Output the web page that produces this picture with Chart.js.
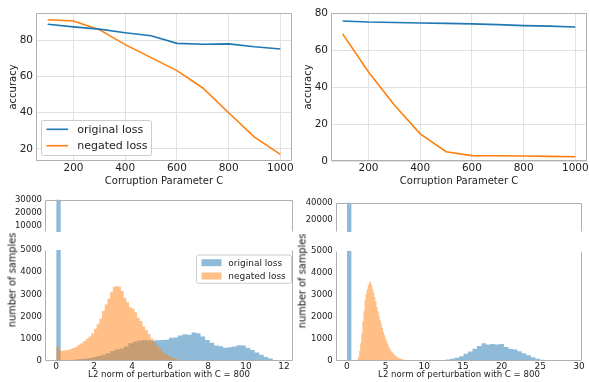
<!DOCTYPE html>
<html>
<head>
<meta charset="utf-8">
<script src="https://cdn.jsdelivr.net/npm/chart.js@4.4.0/dist/chart.umd.min.js"></script>
<style>
  body { margin: 0; background: #fff; width: 590px; height: 382px; position: relative; overflow: hidden; font-family: "DejaVu Sans", sans-serif; }
  canvas { position: absolute; }
  .ylab { position: absolute; white-space: nowrap; font-size: 9.8px; color: #111; transform: translate(-50%, -50%) rotate(-90deg); }
</style>
</head>
<body>
<canvas id="accLeft" width="300" height="192" style="left:0;top:0"></canvas>
<canvas id="accRight" width="295" height="192" style="left:295px;top:0"></canvas>
<canvas id="histLeftTop" width="300" height="50" style="left:0;top:190px"></canvas>
<canvas id="histLeft" width="300" height="142" style="left:0;top:240px"></canvas>
<canvas id="histRightTop" width="295" height="50" style="left:295px;top:190px"></canvas>
<canvas id="histRight" width="295" height="142" style="left:295px;top:240px"></canvas>
<div class="ylab" style="left:12px;top:280px">number of samples</div>
<div class="ylab" style="left:302px;top:281px">number of samples</div>
<script>
// accuracy vs corruption parameter
const corruptionC = [100, 200, 300, 400, 500, 600, 700, 800, 900, 1000];
const accLeftOriginal = [89, 87.5, 86.3, 84.3, 82.6, 78.4, 77.9, 78.1, 76.5, 75.3];
const accLeftNegated = [91.5, 90.8, 86, 77.7, 70.5, 63.3, 53.7, 40, 26.5, 17];
const accRightOriginal = [75.7, 75.1, 74.9, 74.6, 74.4, 74.1, 73.7, 73.2, 72.9, 72.4];
const accRightNegated = [68.7, 48.1, 30.3, 14.7, 5, 2.9, 2.8, 2.7, 2.5, 2.3];
const cTicks = [200, 400, 600, 800, 1000];
const accLeftTicks = [20, 40, 60, 80];
const accRightTicks = [0, 20, 40, 60, 80];

// histograms of L2 norm (counts per bin)
const leftOrigStart = 0, leftOrigBin = 0.2376;
const leftOrigCounts = [38000, 30, 40, 50, 70, 90, 110, 140, 180, 220,
  280, 350, 450, 520, 560, 650, 800, 880, 920, 950,
  940, 920, 930, 950, 960, 1050, 1060, 1150, 1200, 1180,
  1280, 1250, 1100, 950, 820, 700, 660, 600, 620, 650,
  710, 700, 600, 500, 380, 280, 180, 110, 50, 15];
const leftNegStart = 0, leftNegBin = 0.142;
const leftNegCounts = [650, 450, 460, 480, 500, 540, 580, 640, 730, 800,
  900, 1000, 1100, 1250, 1450, 1650, 1900, 2250, 2550, 2800,
  3100, 3350, 3380, 3350, 3150, 2850, 2650, 2420, 2350, 2200,
  1950, 1800, 1550, 1400, 1200, 1000, 850, 700, 560, 430,
  330, 250, 180, 130, 90, 60, 40, 25, 15, 8];
const rightOrigStart = 0, rightOrigBin = 0.58;
const rightOrigCounts = [45000, 0, 0, 0, 0, 0, 0, 0, 0, 0,
  0, 0, 0, 0, 0, 0, 0, 10, 15, 20,
  35, 50, 70, 100, 150, 220, 330, 430, 560, 680,
  800, 750, 770, 750, 770, 640, 560, 520, 440, 350,
  260, 170, 100, 55, 30, 15, 8, 4, 2, 1];
const rightNegStart = 1.3, rightNegBin = 0.14;
const rightNegCounts = [60, 200, 450, 800, 1250, 1800, 2250, 2750, 3050, 3250,
  3450, 3550, 3620, 3450, 3250, 3100, 2900, 2700, 2450, 2250,
  2050, 1850, 1700, 1500, 1330, 1180, 1020, 900, 780, 660,
  560, 480, 400, 340, 290, 240, 200, 170, 140, 120,
  100, 85, 70, 55, 45, 35, 28, 20, 12, 6];
const histLeftTicks = [0, 2, 4, 6, 8, 10, 12];
const histRightTicks = [0, 5, 10, 15, 20, 25, 30];
const lowerTicks = [0, 1000, 2000, 3000, 4000, 5000];
const upperLeftTicks = [10000, 20000, 30000];
const upperRightTicks = [20000, 40000];

const blueLine = '#1f77b4';
const orangeLine = '#ff7f0e';
const blueFill = 'rgba(31,119,180,0.5)';
const orangeFill = 'rgba(255,127,14,0.5)';
const frameColor = '#b0b0b0';
const gridColor = '#e2e2e2';

Chart.defaults.font.family = '"DejaVu Sans", sans-serif';
Chart.defaults.color = '#222';
Chart.defaults.animation = false;

const framePlugin = {
  id: 'frame',
  afterDraw(chart, args, opts) {
    const a = chart.chartArea;
    const ctx = chart.ctx;
    const l = Math.round(a.left) + 0.5, r = Math.round(a.right) - 0.5;
    const t = Math.round(a.top) + 0.5, b = Math.round(a.bottom) - 0.5;
    const sides = opts.sides || 'tlbr';
    ctx.save();
    ctx.strokeStyle = frameColor;
    ctx.lineWidth = 1;
    ctx.beginPath();
    if (sides.includes('t')) { ctx.moveTo(l, t); ctx.lineTo(r, t); }
    if (sides.includes('b')) { ctx.moveTo(l, b); ctx.lineTo(r, b); }
    if (sides.includes('l')) { ctx.moveTo(l, t); ctx.lineTo(l, b); }
    if (sides.includes('r')) { ctx.moveTo(r, t); ctx.lineTo(r, b); }
    ctx.stroke();
    ctx.restore();
  }
};

const boxLegend = {
  id: 'boxLegend',
  afterDraw(chart, args, o) {
    if (!o.show) return;
    const ctx = chart.ctx;
    ctx.save();
    ctx.fillStyle = 'rgba(255,255,255,0.85)';
    ctx.strokeStyle = '#cccccc';
    ctx.lineWidth = 1;
    ctx.beginPath();
    ctx.roundRect(o.x, o.y, o.w, o.h, 2);
    ctx.fill();
    ctx.stroke();
    ctx.font = o.font + 'px "DejaVu Sans"';
    ctx.textBaseline = 'middle';
    chart.data.datasets.forEach((ds, i) => {
      const yy = o.y + o.rows[i];
      if (o.kind === 'line') {
        ctx.strokeStyle = ds.borderColor;
        ctx.lineWidth = 1.6;
        ctx.beginPath();
        ctx.moveTo(o.x + o.swX, yy);
        ctx.lineTo(o.x + o.swX + o.swW, yy);
        ctx.stroke();
      } else {
        ctx.fillStyle = ds.backgroundColor;
        ctx.fillRect(o.x + o.swX, yy - o.swH / 2, o.swW, o.swH);
      }
      ctx.fillStyle = '#222';
      ctx.fillText(ds.label, o.x + o.textX, yy + 0.5);
    });
    ctx.restore();
  }
};

function fixedTicks(list) {
  return scale => { scale.ticks = list.map(v => ({ value: v })); };
}

function accuracyChart(id, orig, neg, yMin, yMax, yTicks, padRight, legend) {
  return new Chart(document.getElementById(id), {
    type: 'line',
    data: {
      datasets: [
        { label: 'original loss', data: corruptionC.map((c, i) => ({ x: c, y: orig[i] })),
          borderColor: blueLine, borderWidth: 1.6, pointRadius: 0, tension: 0 },
        { label: 'negated loss', data: corruptionC.map((c, i) => ({ x: c, y: neg[i] })),
          borderColor: orangeLine, borderWidth: 1.6, pointRadius: 0, tension: 0 }
      ]
    },
    options: {
      responsive: false,
      layout: { padding: { top: 13, right: padRight, bottom: 0, left: 0 } },
      plugins: {
        legend: { display: false },
        tooltip: { enabled: false },
        frame: { sides: 'tlbr' },
        boxLegend: legend
      },
      scales: {
        x: {
          type: 'linear', min: 55, max: 1045,
          afterBuildTicks: fixedTicks(cTicks),
          afterFit: s => { s.height = 31; },
          grid: { color: gridColor, drawTicks: false },
          border: { display: false },
          ticks: { font: { size: 10.5 }, padding: 1, autoSkip: false, maxRotation: 0, callback: v => String(v) },
          title: { display: true, text: 'Corruption Parameter C', font: { size: 10 }, padding: { top: 0, bottom: 4.3 } }
        },
        y: {
          min: yMin, max: yMax,
          afterBuildTicks: fixedTicks(yTicks),
          afterFit: s => { s.width = 36; },
          grid: { color: gridColor, drawTicks: false },
          border: { display: false },
          ticks: { font: { size: 10.5 }, padding: 3, autoSkip: false, callback: v => String(v) },
          title: { display: true, text: 'accuracy', font: { size: 10 }, padding: { top: 7.3, bottom: 0 } }
        }
      }
    },
    plugins: [framePlugin, boxLegend]
  });
}

// bin i spans [start + i*bin, start + (i+1)*bin]
function histPoints(start, bin, counts) {
  const pts = counts.map((c, i) => ({ x: start + i * bin, y: c }));
  pts.push({ x: start + counts.length * bin, y: counts[counts.length - 1] });
  pts.push({ x: start + counts.length * bin, y: 0 });
  return pts;
}

function histDatasets(orig, neg) {
  return [
    { label: 'original loss', data: orig, order: 2, stepped: 'before', fill: 'origin',
      backgroundColor: blueFill, borderColor: 'rgba(0,0,0,0)', borderWidth: 0, pointRadius: 0 },
    { label: 'negated loss', data: neg, order: 1, stepped: 'before', fill: 'origin',
      backgroundColor: orangeFill, borderColor: 'rgba(0,0,0,0)', borderWidth: 0, pointRadius: 0 }
  ];
}

function histChart(id, orig, neg, xr, xTicks, yMin, yMax, yTicks, upper, pad, yWidth, legend) {
  return new Chart(document.getElementById(id), {
    type: 'line',
    data: { datasets: histDatasets(orig, neg) },
    options: {
      responsive: false,
      layout: { padding: pad },
      plugins: {
        legend: { display: false },
        tooltip: { enabled: false },
        frame: { sides: upper ? 'tlr' : 'blr' },
        boxLegend: legend
      },
      scales: {
        x: {
          type: 'linear', min: xr[0], max: xr[1], display: !upper,
          afterBuildTicks: fixedTicks(xTicks),
          afterFit: s => { s.height = upper ? 0 : 21; },
          grid: { display: false, drawTicks: false },
          border: { display: false },
          ticks: { font: { size: 9 }, padding: 0, autoSkip: false, maxRotation: 0, callback: v => String(v) },
          title: { display: true, text: 'L2 norm of perturbation with C = 800', font: { size: 8.6 }, padding: { top: 0, bottom: 2 } }
        },
        y: {
          min: yMin, max: yMax,
          afterBuildTicks: fixedTicks(yTicks),
          afterFit: s => { s.width = yWidth; },
          grid: { display: false, drawTicks: false },
          border: { display: false },
          ticks: { font: { size: 8.5 }, padding: 3, autoSkip: false, callback: v => String(v) }
        }
      }
    },
    plugins: [framePlugin, boxLegend]
  });
}

accuracyChart('accLeft', accLeftOriginal, accLeftNegated, 13.3, 95.2, accLeftTicks, 8,
  { show: true, kind: 'line', x: 41.5, y: 120.5, w: 110, h: 35, rows: [8.8, 25.2], swX: 5, swW: 21.6, textX: 35.8, font: 11 });
accuracyChart('accRight', accRightOriginal, accRightNegated, 0, 80, accRightTicks, 3, { show: false });

const lo = histPoints(leftOrigStart, leftOrigBin, leftOrigCounts);
const ln = histPoints(leftNegStart, leftNegBin, leftNegCounts);
const ro = histPoints(rightOrigStart, rightOrigBin, rightOrigCounts);
const rn = histPoints(rightNegStart, rightNegBin, rightNegCounts);

histChart('histLeftTop', lo, ln, [-0.59, 12.47], histLeftTicks, 5000, 30000, upperLeftTicks, true,
  { top: 9.5, right: 7, bottom: 4.3, left: 0 }, 45, { show: false });
histChart('histLeft', lo, ln, [-0.59, 12.47], histLeftTicks, 0, 5000, lowerTicks, false,
  { top: 10, right: 7, bottom: 0, left: 0 }, 45,
  { show: true, kind: 'patch', x: 196.5, y: 15, w: 95, h: 28.3, rows: [7.7, 21], swX: 5, swW: 20, swH: 7, textX: 31.8, font: 9 });
histChart('histRightTop', ro, rn, [-1.45, 30.43], histRightTicks, 5000, 40000, upperRightTicks, true,
  { top: 12.5, right: 7.7, bottom: 3.3, left: 0 }, 40.7, { show: false });
histChart('histRight', ro, rn, [-1.45, 30.43], histRightTicks, 0, 5000, lowerTicks, false,
  { top: 10.7, right: 7.7, bottom: 0, left: 0 }, 40.7, { show: false });
</script>
</body>
</html>
